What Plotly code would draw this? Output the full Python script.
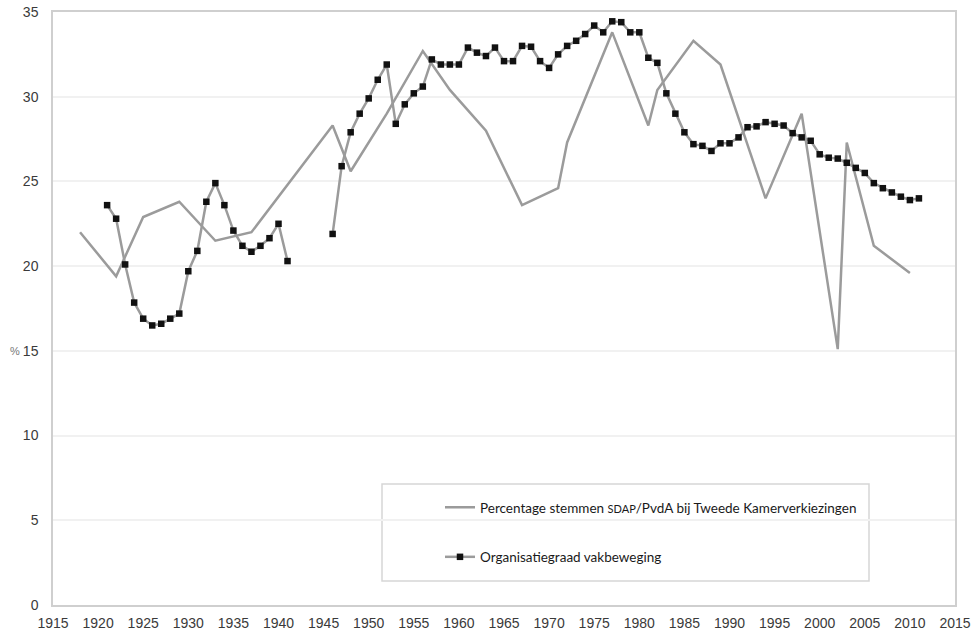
import plotly.graph_objects as go

# Tweede Kamer election results for SDAP/PvdA (% of votes)
vote_years = [1918, 1922, 1925, 1929, 1933, 1937, 1946, 1948, 1952, 1956, 1959, 1963,
              1967, 1971, 1972, 1977, 1981, 1982, 1986, 1989, 1994, 1998, 2002, 2003,
              2006, 2010]
vote_pct = [22.0, 19.4, 22.9, 23.8, 21.5, 22.0, 28.3, 25.6, 29.0, 32.7, 30.4, 28.0,
            23.6, 24.6, 27.3, 33.8, 28.3, 30.4, 33.3, 31.9, 24.0, 29.0, 15.1, 27.3,
            21.2, 19.6]

# Trade union density (%), yearly; no figures for the war years 1942-1945
union_years = list(range(1921, 2012))
union_pct = [
    23.6, 22.8, 20.1, 17.85, 16.9, 16.5, 16.6, 16.9, 17.2, 19.7,   # 1921-1930
    20.9, 23.8, 24.9, 23.6, 22.1, 21.2, 20.85, 21.2, 21.65, 22.5,  # 1931-1940
    20.3, None, None, None, None, 21.9, 25.9, 27.9, 29.0, 29.9,    # 1941-1950
    31.0, 31.9, 28.4, 29.55, 30.2, 30.6, 32.2, 31.9, 31.9, 31.9,   # 1951-1960
    32.9, 32.6, 32.4, 32.9, 32.1, 32.1, 33.0, 32.95, 32.1, 31.7,   # 1961-1970
    32.5, 33.0, 33.3, 33.7, 34.2, 33.8, 34.45, 34.4, 33.8, 33.8,   # 1971-1980
    32.3, 32.0, 30.2, 29.0, 27.9, 27.2, 27.1, 26.8, 27.25, 27.25,  # 1981-1990
    27.6, 28.2, 28.25, 28.5, 28.4, 28.3, 27.85, 27.6, 27.4, 26.6,  # 1991-2000
    26.4, 26.35, 26.1, 25.8, 25.5, 24.9, 24.6, 24.35, 24.1, 23.9,  # 2001-2010
    24.0,                                                          # 2011
]

x_ticks = list(range(1915, 2016, 5))
y_ticks = list(range(0, 36, 5))

GREY_LINE = "rgb(155,155,155)"
TICK_FONT = dict(family="Liberation Sans, Arial, sans-serif", size=14, color="#3a3a3a")
LEGEND_FONT = dict(family="Lato, sans-serif", size=13.5, color="#1a1a1a")

fig = go.Figure()

fig.add_trace(go.Scatter(
    x=vote_years, y=vote_pct, mode="lines",
    name="Percentage stemmen <span style='font-size:11px'>SDAP</span>/PvdA bij Tweede Kamerverkiezingen",
    line=dict(color=GREY_LINE, width=2.5),
    legendgroup="a",
))

fig.add_trace(go.Scatter(
    x=union_years, y=union_pct, mode="lines+markers",
    name="Organisatiegraad vakbeweging",
    line=dict(color=GREY_LINE, width=2.5),
    marker=dict(symbol="square", size=6.5, color="#111"),
    connectgaps=False,
    legendgroup="b",
))

# legend frame
fig.add_shape(
    type="rect", xref="paper", yref="paper",
    x0=(382 - 53) / 902, x1=(869 - 53) / 902,
    y0=(605 - 581) / 593, y1=(605 - 484) / 593,
    line=dict(color="#d6d6d6", width=1.5), fillcolor="white", layer="below",
)

# unit label beside the y axis
fig.add_annotation(
    text="%", xref="paper", yref="y", x=(15 - 53) / 902, y=15,
    showarrow=False, xanchor="center", yanchor="middle",
    font=dict(family="Liberation Sans, Arial, sans-serif", size=11, color="#777"),
)

fig.update_layout(
    width=978, height=637,
    margin=dict(l=53, r=23, t=12, b=32, pad=0),
    paper_bgcolor="white", plot_bgcolor="white",
    showlegend=True,
    legend=dict(
        x=(440 - 53) / 902, y=(605 - 492) / 593, xanchor="left", yanchor="top",
        bgcolor="rgba(0,0,0,0)", borderwidth=0, font=LEGEND_FONT,
        tracegroupgap=29, itemwidth=30,
    ),
)

fig.update_xaxes(
    range=[1915, 2015], tickvals=x_ticks, ticktext=[str(v) for v in x_ticks],
    showgrid=False, zeroline=False, automargin=False,
    showline=True, linecolor="#cfcfcf", linewidth=1.5, mirror=True,
    ticks="", tickfont=TICK_FONT, ticklabelstandoff=4,
)

fig.update_yaxes(
    range=[0, 35], tickvals=y_ticks, ticktext=[str(v) for v in y_ticks],
    showgrid=True, gridcolor="#f1f1f1", gridwidth=1.5, zeroline=False, automargin=False,
    showline=True, linecolor="#cfcfcf", linewidth=1.5, mirror=True,
    ticks="", tickfont=TICK_FONT, ticklabelstandoff=10,
)

fig.write_html("out.html")
